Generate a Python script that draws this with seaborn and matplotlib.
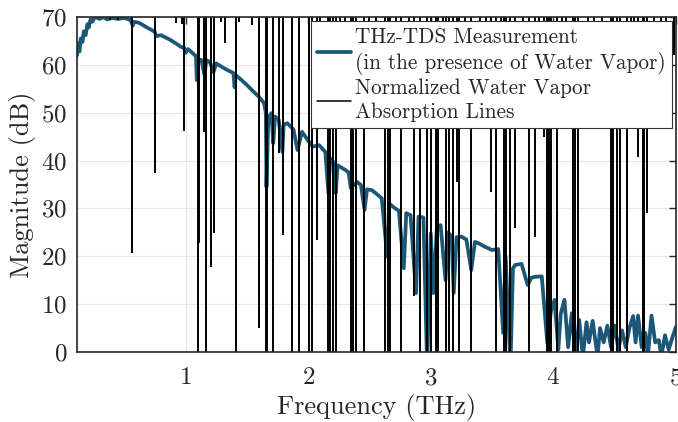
import numpy as np
import pandas as pd
import matplotlib.pyplot as plt
import seaborn as sns
from matplotlib.lines import Line2D

# THz-TDS spectrum (THz, dB)
freq_thz = [0.115, 0.125, 0.135, 0.145, 0.16, 0.17, 0.185, 0.20, 0.21, 0.225, 0.24, 0.26,
            0.30, 0.33, 0.36, 0.40, 0.45, 0.50, 0.55, 0.57, 0.58, 0.62, 0.66, 0.70, 0.75,
            0.76, 0.80, 0.87, 0.92, 0.96, 0.99, 1.00, 1.02, 1.06, 1.085, 1.092, 1.10, 1.13,
            1.154, 1.17, 1.20, 1.228, 1.25, 1.30, 1.35, 1.39, 1.40, 1.41, 1.44, 1.50, 1.55,
            1.60, 1.64, 1.655, 1.66, 1.675, 1.70, 1.715, 1.73, 1.76, 1.79, 1.80, 1.83, 1.88,
            1.913, 1.95, 2.00, 2.035, 2.09, 2.14, 2.165, 2.18, 2.21, 2.225, 2.24, 2.306, 2.33,
            2.347, 2.40, 2.43, 2.46, 2.48, 2.52, 2.56, 2.60, 2.645, 2.66, 2.71, 2.74, 2.78,
            2.80, 2.835, 2.88, 2.90, 2.94, 2.97, 3.00, 3.02, 3.05, 3.08, 3.12, 3.14, 3.17,
            3.187, 3.21, 3.25, 3.29, 3.33, 3.36, 3.39, 3.44, 3.50, 3.55, 3.59, 3.61, 3.65,
            3.67, 3.69, 3.74, 3.79, 3.82, 3.85, 3.905, 3.95, 3.98, 4.01, 4.04, 4.06, 4.09,
            4.12, 4.15, 4.18, 4.21, 4.24, 4.27, 4.29, 4.32, 4.36, 4.38, 4.41, 4.44, 4.47,
            4.50, 4.53, 4.56, 4.59, 4.62, 4.65, 4.67, 4.69, 4.72, 4.75, 4.77, 4.80, 4.83,
            4.86, 4.88, 4.91, 4.94, 4.97, 5.00]
mag_db = [62.0, 64.5, 62.8, 65.5, 64.8, 67.0, 66.2, 68.5, 67.8, 69.5, 69.0, 70.0,
          69.6, 70.0, 69.5, 69.8, 69.6, 69.8, 69.4, 68.2, 69.0, 68.8, 68.2, 67.6, 66.9,
          66.0, 66.2, 65.3, 64.5, 63.8, 63.5, 62.5, 63.3, 62.4, 61.8, 56.8, 61.2, 61.0,
          57.9, 61.0, 60.5, 58.5, 60.3, 59.5, 58.8, 58.3, 55.3, 57.8, 57.2, 55.8, 54.5,
          53.3, 52.0, 50.0, 34.5, 49.0, 49.9, 43.6, 49.2, 48.5, 41.8, 47.5, 47.8, 46.5,
          42.2, 46.0, 44.2, 42.9, 43.2, 41.8, 33.2, 40.5, 39.5, 33.2, 39.0, 38.0, 37.5,
          34.3, 35.5, 34.9, 29.7, 34.0, 33.8, 33.0, 32.1, 19.9, 31.0, 30.0, 29.5, 17.5,
          29.0, 28.6, 12.3, 28.3, 28.1, -3.0, 24.8, 12.3, 26.0, 26.5, 15.0, 25.0, 24.1,
          12.3, 24.0, 24.1, 23.5, 17.1, 23.0, 22.7, 22.0, 21.3, 21.5, 4.0, 20.0, -3.0,
          17.5, 18.2, 18.4, 14.0, 15.5, 15.7, 15.8, 1.9, 8.5, 10.9, 0.5, 8.0, 10.9,
          1.0, 8.1, -1.0, 6.7, -1.0, 6.2, 2.0, 6.5, -1.0, 5.0, 2.0, 5.5, 1.0,
          5.5, 0.5, 4.5, 1.0, 5.0, 7.5, 2.0, 7.6, 1.0, 4.0, -1.0, 7.6, 2.0,
          2.5, -1.0, 3.5, 0.5, 3.0, 5.3]

# water vapor absorption lines: position (THz) and lower end (dB), they hang from 70 dB
line_freq = [0.38, 0.45, 0.563, 0.754, 0.92, 0.97, 0.99, 1.100, 1.112, 1.154, 1.170,
             1.209, 1.230, 1.29, 1.32, 1.41, 1.44, 1.54, 1.60, 1.656, 1.668, 1.712, 1.76,
             1.792, 1.867, 1.925, 2.008, 2.035, 2.076, 2.163, 2.18, 2.206, 2.225, 2.347,
             2.368, 2.388, 2.455, 2.63, 2.65, 2.67, 2.76, 2.86, 2.916, 2.97, 3.00, 3.04,
             3.055, 3.127, 3.146, 3.18, 3.21, 3.23, 3.33, 3.49, 3.53, 3.60, 3.615, 3.65,
             3.69, 3.805, 3.85, 3.92, 3.95, 3.965, 3.98, 4.03, 4.16, 4.18, 4.20, 4.47,
             4.49, 4.52, 4.54, 4.60, 4.69, 4.73, 4.738, 4.76, 4.985]
line_bottom = [69.3, 69.3, 20.7, 37.3, 68.7, 68.5, 46.2, 0, 22.7, 46.0, 0,
               17.7, 24.8, 69.0, 64.5, 0, 69.0, 68.3, 5.0, 0, 0, 0, 41.5,
               24.5, 0, 0, 0, 0, 23.4, 0, 0, 0, 0, 0,
               0, 0, 0, 0, 0, 0, 0, 11.6, 0, 0, 0, 0,
               0, 0, 0, 0, 35.6, 0, 0, 33.5, 0, 0, 0, 0,
               25.8, 0, 24.1, 45.0, 0, 0, 0, 0, 0, 0, 0, 0,
               0, 0, 0, 0, 40.8, 0, 0, 29.0, 62.0]

# weak lines that only show as short marks under the top edge
weak_freq = [2.10, 2.26, 2.30, 2.50, 2.55, 2.72, 2.82, 3.10, 3.28, 3.40, 3.45, 3.57,
             3.75, 3.88, 4.07, 4.10, 4.28, 4.33, 4.40, 4.63, 4.66, 4.82, 4.88, 4.92]
weak_bottom = [68.8] * len(weak_freq)

df = pd.DataFrame({"Frequency": freq_thz, "Magnitude": mag_db})

sns.set_theme(style="white")
plt.rcParams["font.family"] = "cmr10"
plt.rcParams["mathtext.fontset"] = "cm"
plt.rcParams["axes.formatter.use_mathtext"] = True

blue = "#1b5878"
fig = plt.figure(figsize=(6.78, 4.22), dpi=100)
ax = fig.add_axes([0.1136, 0.166, 0.8835, 0.7937])

sns.lineplot(data=df, x="Frequency", y="Magnitude", sort=False, color=blue,
             linewidth=2.7, ax=ax, zorder=3)
ax.vlines(line_freq, line_bottom, 70, color="black", linewidth=1.4, zorder=4)
ax.vlines(weak_freq, weak_bottom, 70, color="black", linewidth=1.4, zorder=4)

ax.set_xlim(0.115, 5)
ax.set_ylim(0, 70)
ax.set_xticks([1, 2, 3, 4, 5])
ax.set_yticks(np.arange(0, 71, 10))
ax.set_xlabel("Frequency (THz)", fontsize=19, labelpad=3)
ax.set_ylabel("Magnitude (dB)", fontsize=19, labelpad=4)
ax.tick_params(direction="in", length=5, width=1, top=True, right=True,
               labelsize=18, colors="#262626", pad=7)
ax.tick_params(axis="x", pad=11)
ax.grid(True, color="#e8e8e8", linewidth=0.9)
ax.set_axisbelow(True)
for s in ax.spines.values():
    s.set_linewidth(1.2)
    s.set_color("#262626")
    s.set_zorder(6)

# Legend
legend_elements = [
    Line2D([0], [0], color=blue, linewidth=2.7,
           label="THz-TDS Measurement\n(in the presence of Water Vapor)"),
    Line2D([0], [0], color="black", linewidth=1.1,
           label="Normalized Water Vapor\nAbsorption Lines"),
]
leg = ax.legend(handles=legend_elements, loc="upper right", fontsize=15.3, frameon=True,
                fancybox=False, framealpha=1, edgecolor="#333333", borderaxespad=0.2,
                handlelength=1.6, handletextpad=0.15, borderpad=0.3, labelspacing=0.15)
for t in leg.get_texts():
    t.set_linespacing(1.3)
leg.get_frame().set_linewidth(0.8)
leg.set_zorder(10)

fig.savefig("out.png", dpi=100)
